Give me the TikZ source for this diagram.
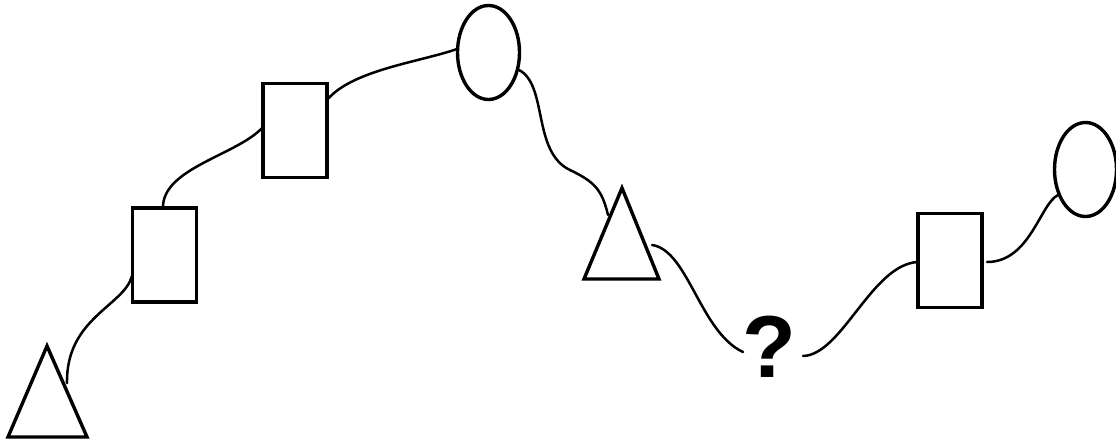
\documentclass[tikz,border=0pt]{standalone}
\usepackage{fontspec}
\setsansfont{Liberation Sans}
\usetikzlibrary{shapes.geometric}
\begin{document}
\begin{tikzpicture}[x=1pt,y=-1pt,
  shapeline/.style={draw=black,line width=3.4pt,line join=miter},
  boxnode/.style={shapeline,rectangle,inner sep=0pt,outer sep=0pt,minimum width=64pt,minimum height=94pt},
  ovalnode/.style={shapeline,ellipse,inner sep=0pt,outer sep=0pt,minimum width=62pt,minimum height=94pt},
  link/.style={draw=black,line width=2.5pt,line cap=round}]
\useasboundingbox (0,0) rectangle (1116,441);
% triangles
\coordinate (t1a) at (47,346);
\coordinate (t1l) at (8,437);
\coordinate (t1r) at (87,437);
\draw[shapeline] (t1a) -- (t1r) -- (t1l) -- cycle;
\coordinate (t2a) at (622,188);
\coordinate (t2l) at (584,279);
\coordinate (t2r) at (659,279);
\draw[shapeline] (t2a) -- (t2r) -- (t2l) -- cycle;
% boxes and ovals
\node[boxnode] (r1) at (164.5,255) {};
\node[boxnode] (r2) at (295,130.5) {};
\node[ovalnode] (e1) at (488.5,52.5) {};
\node[boxnode] (r3) at (950,260.5) {};
\node[ovalnode] (e2) at (1085.5,169.5) {};
\node[anchor=base,inner sep=0pt,font=\sffamily\bfseries\fontsize{88}{88}\selectfont] (q) at (769,377) {?};
% connector end points
\coordinate (c1) at (67,383);
\coordinate (c2) at (132,276);
\coordinate (c3) at (163,208);
\coordinate (c4) at (263,127);
\coordinate (c5) at (327,100);
\coordinate (c6) at (457,49);
\coordinate (c7) at (519,70);
\coordinate (c8) at (570,170);
\coordinate (c9) at (608,215);
\coordinate (c10) at (652,245);
\coordinate (c11) at (743,352);
\coordinate (c12) at (803,356);
\coordinate (c13) at (918,262);
\coordinate (c14) at (987,262);
\coordinate (c15) at (1058,195);
% connectors
\draw[link] (c1) .. controls (66,318) and (124,306) .. (c2);
\draw[link] (c3) .. controls (162,168) and (238,155) .. (c4);
\draw[link] (c5) .. controls (352,70) and (420,62) .. (c6);
\draw[link] (c7) .. controls (548,85) and (532,152) .. (c8) .. controls (595,182) and (602,190) .. (c9);
\draw[link] (c10) .. controls (688,250) and (700,332) .. (c11);
\draw[link] (c12) .. controls (842,355) and (872,264) .. (c13);
\draw[link] (c14) .. controls (1030,262) and (1040,204) .. (c15);
\end{tikzpicture}
\end{document}
